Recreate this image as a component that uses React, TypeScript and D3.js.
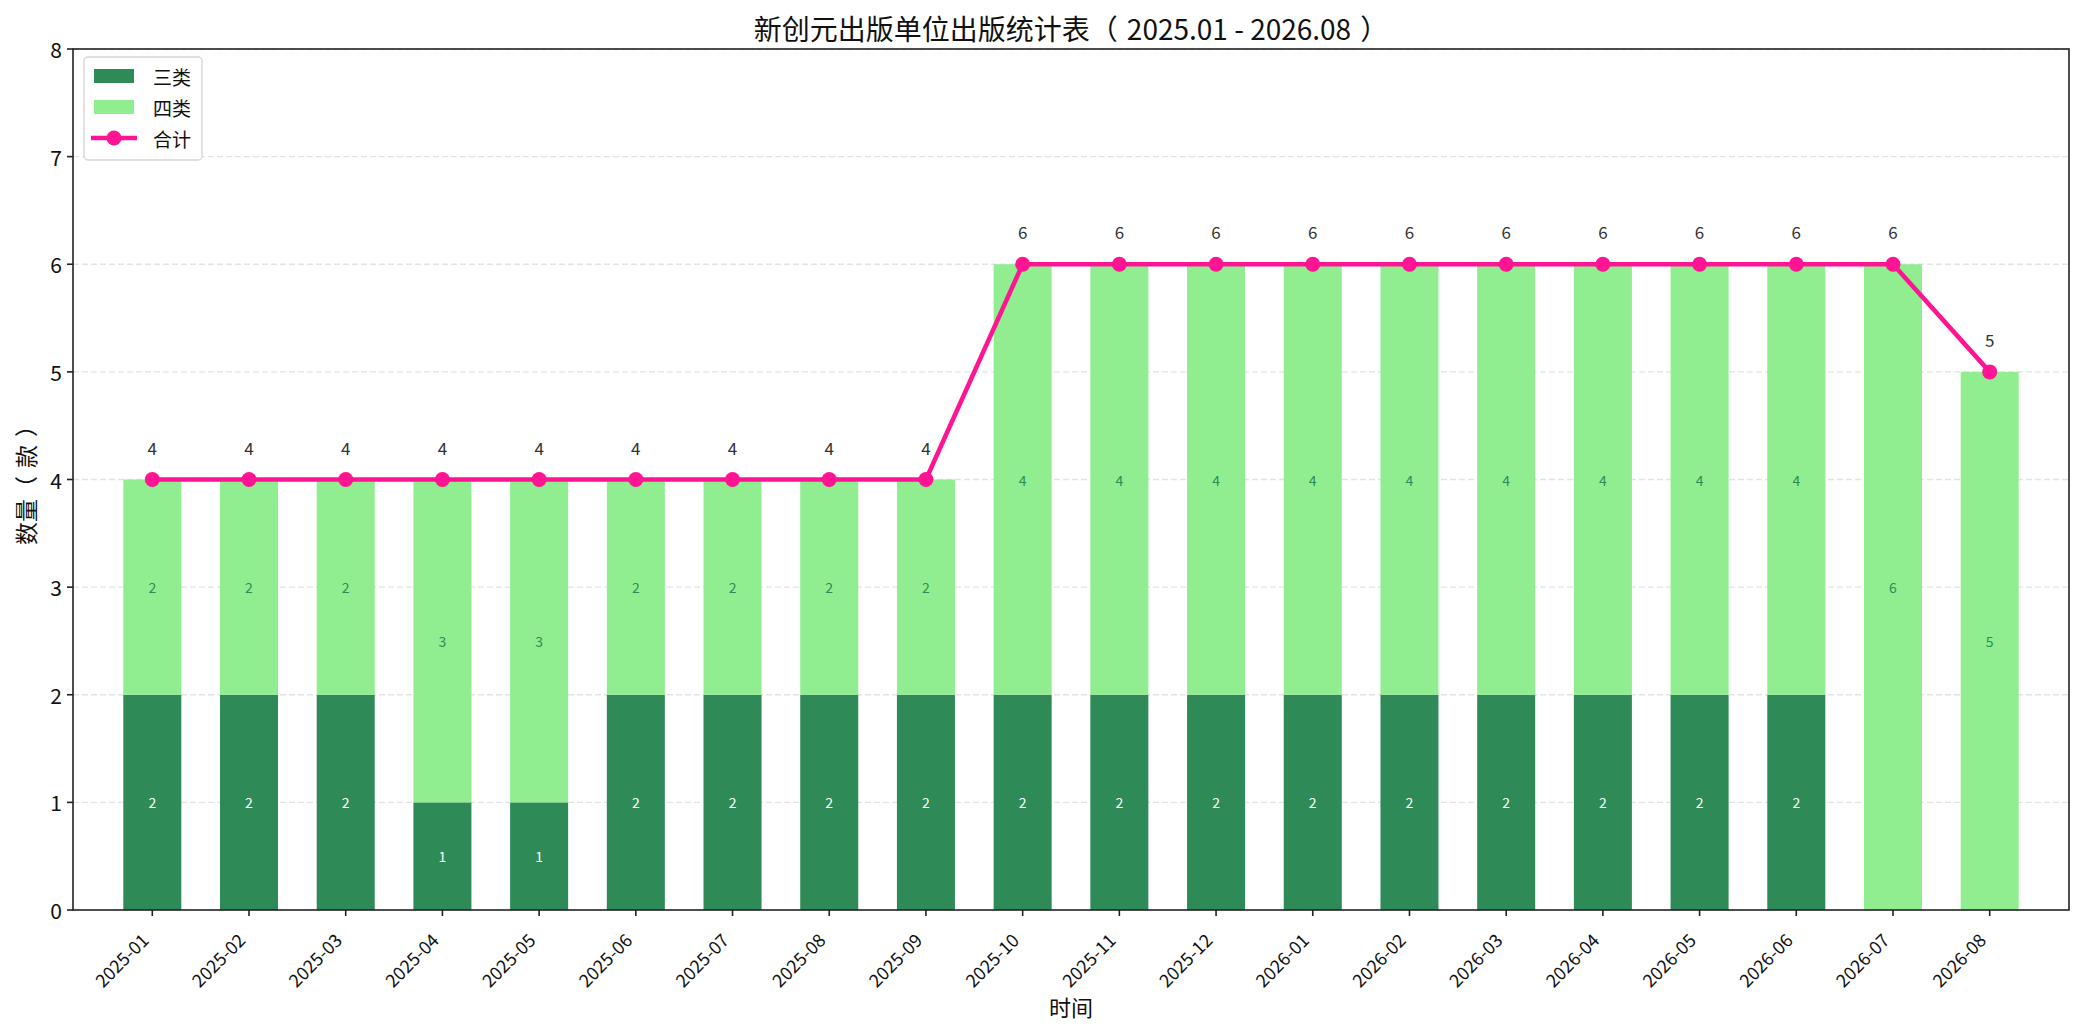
import React, { useEffect, useRef } from 'react';
import * as d3 from 'd3';

const months = [
  '2025-01', '2025-02', '2025-03', '2025-04', '2025-05', '2025-06', '2025-07',
  '2025-08', '2025-09', '2025-10', '2025-11', '2025-12', '2026-01', '2026-02',
  '2026-03', '2026-04', '2026-05', '2026-06', '2026-07', '2026-08',
];
const class3 = [2, 2, 2, 1, 1, 2, 2, 2, 2, 2, 2, 2, 2, 2, 2, 2, 2, 2, 0, 0];
const class4 = [2, 2, 2, 3, 3, 2, 2, 2, 2, 4, 4, 4, 4, 4, 4, 4, 4, 4, 6, 5];
const totals = [4, 4, 4, 4, 4, 4, 4, 4, 4, 6, 6, 6, 6, 6, 6, 6, 6, 6, 6, 5];
const yTicks = [0, 1, 2, 3, 4, 5, 6, 7, 8];
const legendItems = ['三类', '四类', '合计'];
// title and y label split so the full-width brackets can get their spacing
const titleParts = ['新创元出版单位出版统计表（', '2025.01 - 2026.08', '）'];
const yLabelParts = ['数量（', '款', '）'];

const FONT = '"Noto Sans CJK SC", "Noto Sans", sans-serif';
const DARK = '#2e8b57';
const LIGHT = '#90ee90';
const PINK = '#ff1493';

const App: React.FC = () => {
  const svgRef = useRef<SVGSVGElement>(null);

  useEffect(() => {
    if (!svgRef.current) return;
    const svg = d3.select(svgRef.current);
    svg.selectAll('*').remove();

    const W = 2084;
    const H = 1035;
    const left = 73, right = 2069, top = 49, bottom = 910;

    const x = d3.scaleLinear().domain([-0.82, months.length - 1 + 0.82]).range([left, right]);
    const y = d3.scaleLinear().domain([0, 8]).range([bottom, top]);
    const step = x(1) - x(0);
    const barW = step * 0.6;

    svg.append('rect').attr('width', W).attr('height', H).attr('fill', 'white');

    // grid
    svg.append('g')
      .selectAll('line')
      .data(yTicks.slice(1))
      .join('line')
      .attr('x1', left).attr('x2', right)
      .attr('y1', d => y(d)).attr('y2', d => y(d))
      .attr('stroke', '#e3e3e3')
      .attr('stroke-width', 1.3)
      .attr('stroke-dasharray', '6,3');

    // stacked bars
    const bars = svg.append('g');
    bars.selectAll('rect.c3')
      .data(class3)
      .join('rect')
      .attr('class', 'c3')
      .attr('x', (_, i) => x(i) - barW / 2)
      .attr('width', barW)
      .attr('y', d => y(d))
      .attr('height', d => y(0) - y(d))
      .attr('fill', DARK);

    bars.selectAll('rect.c4')
      .data(class4)
      .join('rect')
      .attr('class', 'c4')
      .attr('x', (_, i) => x(i) - barW / 2)
      .attr('width', barW)
      .attr('y', (d, i) => y(class3[i] + d))
      .attr('height', (d, i) => y(class3[i]) - y(class3[i] + d))
      .attr('fill', LIGHT);

    // segment labels
    const seg = svg.append('g')
      .attr('font-family', FONT)
      .attr('font-size', 14)
      .attr('text-anchor', 'middle')
      .attr('dominant-baseline', 'central');
    class3.forEach((v, i) => {
      if (v > 0) {
        seg.append('text')
          .attr('x', x(i)).attr('y', y(v / 2))
          .attr('fill', 'white')
          .text(v);
      }
    });
    class4.forEach((v, i) => {
      if (v > 0) {
        seg.append('text')
          .attr('x', x(i)).attr('y', y(class3[i] + v / 2))
          .attr('fill', DARK)
          .text(v);
      }
    });

    // total line
    const line = d3.line<number>().x((_, i) => x(i)).y(d => y(d));
    svg.append('path')
      .datum(totals)
      .attr('d', line)
      .attr('fill', 'none')
      .attr('stroke', PINK)
      .attr('stroke-width', 4.5)
      .attr('stroke-linejoin', 'round');
    svg.append('g')
      .selectAll('circle')
      .data(totals)
      .join('circle')
      .attr('cx', (_, i) => x(i))
      .attr('cy', d => y(d))
      .attr('r', 7.5)
      .attr('fill', PINK);

    svg.append('g')
      .attr('font-family', FONT)
      .attr('font-size', 17)
      .attr('fill', '#333')
      .attr('text-anchor', 'middle')
      .selectAll('text')
      .data(totals)
      .join('text')
      .attr('x', (_, i) => x(i))
      .attr('y', d => y(d + 0.3))
      .attr('dominant-baseline', 'central')
      .text(d => d);

    // axes frame
    svg.append('rect')
      .attr('x', left).attr('y', top)
      .attr('width', right - left).attr('height', bottom - top)
      .attr('fill', 'none')
      .attr('stroke', '#222')
      .attr('stroke-width', 1.6);

    // y axis ticks
    const yAxis = svg.append('g').attr('font-family', FONT).attr('font-size', 21);
    yTicks.forEach(t => {
      yAxis.append('line')
        .attr('x1', left - 6).attr('x2', left)
        .attr('y1', y(t)).attr('y2', y(t))
        .attr('stroke', '#222').attr('stroke-width', 1.6);
      yAxis.append('text')
        .attr('x', left - 11).attr('y', y(t))
        .attr('text-anchor', 'end')
        .attr('dominant-baseline', 'central')
        .attr('fill', '#111')
        .text(t);
    });

    // x axis ticks
    const xAxis = svg.append('g').attr('font-family', FONT).attr('font-size', 18);
    months.forEach((m, i) => {
      xAxis.append('line')
        .attr('x1', x(i)).attr('x2', x(i))
        .attr('y1', bottom).attr('y2', bottom + 6)
        .attr('stroke', '#222').attr('stroke-width', 1.6);
      xAxis.append('text')
        .attr('transform', `translate(${x(i) - 8},${bottom + 26}) rotate(-45)`)
        .attr('text-anchor', 'end')
        .attr('dominant-baseline', 'central')
        .attr('fill', '#111')
        .text(m);
    });

    // title
    const title = svg.append('text')
      .attr('x', (left + right) / 2).attr('y', 28)
      .attr('text-anchor', 'middle')
      .attr('dominant-baseline', 'central')
      .attr('font-family', FONT)
      .attr('font-size', 28)
      .attr('fill', '#111');
    titleParts.forEach((p, i) => {
      title.append('tspan').attr('dx', i === 0 ? 0 : 9).text(p);
    });

    svg.append('text')
      .attr('x', (left + right) / 2).attr('y', 1006)
      .attr('text-anchor', 'middle')
      .attr('dominant-baseline', 'central')
      .attr('font-family', FONT)
      .attr('font-size', 22)
      .attr('fill', '#111')
      .text('时间');

    const yl = svg.append('text')
      .attr('transform', `translate(25,${(top + bottom) / 2}) rotate(-90)`)
      .attr('text-anchor', 'middle')
      .attr('dominant-baseline', 'central')
      .attr('font-family', FONT)
      .attr('font-size', 23)
      .attr('fill', '#111');
    yLabelParts.forEach((p, i) => {
      yl.append('tspan').attr('dx', i === 0 ? 0 : 8).text(p);
    });

    // legend
    const lg = svg.append('g').attr('font-family', FONT).attr('font-size', 19);
    lg.append('rect')
      .attr('x', 84).attr('y', 57)
      .attr('width', 118).attr('height', 103)
      .attr('rx', 4)
      .attr('fill', 'white')
      .attr('fill-opacity', 0.8)
      .attr('stroke', '#d5d5d5')
      .attr('stroke-width', 1.3);
    legendItems.forEach((name, i) => {
      const cy = 76 + i * 31;
      if (i < 2) {
        lg.append('rect')
          .attr('x', 94).attr('y', cy - 7)
          .attr('width', 40).attr('height', 14)
          .attr('fill', i === 0 ? DARK : LIGHT);
      } else {
        lg.append('line')
          .attr('x1', 91).attr('x2', 137)
          .attr('y1', cy).attr('y2', cy)
          .attr('stroke', PINK).attr('stroke-width', 4.5);
        lg.append('circle')
          .attr('cx', 114).attr('cy', cy).attr('r', 7.5).attr('fill', PINK);
      }
      lg.append('text')
        .attr('x', 153).attr('y', cy)
        .attr('dominant-baseline', 'central')
        .attr('fill', '#111')
        .text(name);
    });
  }, []);

  return (
    <div style={{ position: 'absolute', left: 0, top: 0 }}>
      <svg ref={svgRef} width={2084} height={1035} viewBox="0 0 2084 1035" />
    </div>
  );
};

export default App;
